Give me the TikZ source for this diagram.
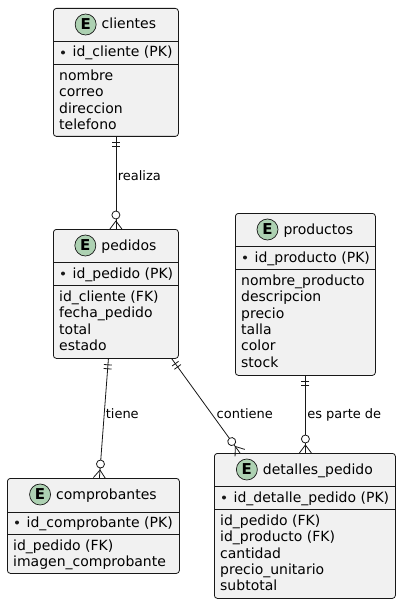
\documentclass[tikz,border=0pt]{standalone}
\usepackage{fontspec}
\setmainfont{DejaVu Sans}
\usetikzlibrary{positioning, calc, decorations.markings}

\definecolor{entfill}{HTML}{F1F1F1}
\definecolor{entline}{HTML}{181818}
\definecolor{ecirc}{HTML}{ADD1B2}

\tikzset{
  entity/.style={draw=entline, fill=entfill, rounded corners=3pt, line width=0.8pt, anchor=north west, inner sep=0pt},
  sepline/.style={draw=entline, line width=0.9pt},
  etitle/.style={font=\fontsize{14}{16}\selectfont, anchor=base, inner sep=0pt, text height=11pt, text depth=2pt},
  emark/.style={circle, draw=entline, line width=0.7pt, fill=ecirc, minimum size=21pt, inner sep=0pt, font=\fontsize{15}{16}\selectfont\bfseries},
  attr/.style={font=\fontsize{14}{16}\selectfont, anchor=base west, inner sep=0pt},
  lbl/.style={font=\fontsize{13}{15}\selectfont, anchor=base west, inner sep=1.5pt},
  rel/.style={draw=entline, line width=0.8pt},
  one/.style={postaction={decorate, decoration={markings,
      mark=at position 6pt with {\draw[entline, line width=0.8pt] (0,-4) -- (0,4);},
      mark=at position 10pt with {\draw[entline, line width=0.8pt] (0,-4) -- (0,4);}}}},
  many/.style={postaction={decorate, decoration={markings,
      mark=at position -14pt with {\draw[entline, fill=white, line width=0.8pt] (0,0) circle (4);},
      mark=at position -8pt with {\draw[entline, line width=0.8pt] (8,-6) -- (0,0) -- (8,6);}}}}
}

\begin{document}
\begin{tikzpicture}[x=1pt, y=-1pt]
    \fill[white] (0,0) rectangle (401,604);
    \useasboundingbox (0,0) rectangle (401,604);

    % clientes
    \begin{scope}[shift={(53,8)}]
        \node[entity, minimum width=125, minimum height=128] (clientes) at (0,0) {};
        \draw[sepline] ([yshift=-33pt]clientes.north west) -- ([yshift=-33pt]clientes.north east);
        \draw[sepline] ([yshift=-56pt]clientes.north west) -- ([yshift=-56pt]clientes.north east);
        \node[etitle] (clientes-title) at ($(clientes.north)+(13,21)$) {clientes};
        \node[emark, left=5pt of clientes-title] (clientes-e) {E};
        \fill[entline] (10,44.5) circle (2);
        \node[attr] (clientes-pk) at (19.5,49) {id\_cliente (PK)};
        \foreach \a [count=\i from 0] in {nombre, correo, direccion, telefono}
            \node[attr] at (6,72.5+16.3*\i) {\a};
    \end{scope}

    % pedidos
    \begin{scope}[shift={(53,229)}]
        \node[entity, minimum width=125, minimum height=129] (pedidos) at (0,0) {};
        \draw[sepline] ([yshift=-33pt]pedidos.north west) -- ([yshift=-33pt]pedidos.north east);
        \draw[sepline] ([yshift=-56pt]pedidos.north west) -- ([yshift=-56pt]pedidos.north east);
        \node[etitle] (pedidos-title) at ($(pedidos.north)+(13,21)$) {pedidos};
        \node[emark, left=5pt of pedidos-title] (pedidos-e) {E};
        \fill[entline] (10,44.5) circle (2);
        \node[attr] (pedidos-pk) at (19.5,49) {id\_pedido (PK)};
        \foreach \a [count=\i from 0] in {{id\_cliente (FK)}, fecha\_pedido, total, estado}
            \node[attr] at (6,72.5+16.3*\i) {\a};
    \end{scope}

    % productos
    \begin{scope}[shift={(235,213)}]
        \node[entity, minimum width=140, minimum height=162] (productos) at (0,0) {};
        \draw[sepline] ([yshift=-33pt]productos.north west) -- ([yshift=-33pt]productos.north east);
        \draw[sepline] ([yshift=-56pt]productos.north west) -- ([yshift=-56pt]productos.north east);
        \node[etitle] (productos-title) at ($(productos.north)+(13,21)$) {productos};
        \node[emark, left=5pt of productos-title] (productos-e) {E};
        \fill[entline] (10,44.5) circle (2);
        \node[attr] (productos-pk) at (19.5,49) {id\_producto (PK)};
        \foreach \a [count=\i from 0] in {nombre\_producto, descripcion, precio, talla, color, stock}
            \node[attr] at (6,72.5+16.3*\i) {\a};
    \end{scope}

    % comprobantes
    \begin{scope}[shift={(7,478)}]
        \node[entity, minimum width=172, minimum height=95] (comprobantes) at (0,0) {};
        \draw[sepline] ([yshift=-34pt]comprobantes.north west) -- ([yshift=-34pt]comprobantes.north east);
        \draw[sepline] ([yshift=-56pt]comprobantes.north west) -- ([yshift=-56pt]comprobantes.north east);
        \node[etitle] (comprobantes-title) at ($(comprobantes.north)+(13,21)$) {comprobantes};
        \node[emark, left=5pt of comprobantes-title] (comprobantes-e) {E};
        \fill[entline] (10,44.5) circle (2);
        \node[attr] (comprobantes-pk) at (19.5,49) {id\_comprobante (PK)};
        \foreach \a [count=\i from 0] in {{id\_pedido (FK)}, imagen\_comprobante}
            \node[attr] at (6,72.5+16.3*\i) {\a};
    \end{scope}

    % detalles_pedido
    \begin{scope}[shift={(214,453)}]
        \node[entity, minimum width=181, minimum height=145] (detalles) at (0,0) {};
        \draw[sepline] ([yshift=-33pt]detalles.north west) -- ([yshift=-33pt]detalles.north east);
        \draw[sepline] ([yshift=-56pt]detalles.north west) -- ([yshift=-56pt]detalles.north east);
        \node[etitle] (detalles-title) at ($(detalles.north)+(13,21)$) {detalles\_pedido};
        \node[emark, left=5pt of detalles-title] (detalles-e) {E};
        \fill[entline] (10,44.5) circle (2);
        \node[attr] (detalles-pk) at (19.5,49) {id\_detalle\_pedido (PK)};
        \foreach \a [count=\i from 0] in {{id\_pedido (FK)}, {id\_producto (FK)}, cantidad, precio\_unitario, subtotal}
            \node[attr] at (6,72.5+16.3*\i) {\a};
    \end{scope}

    % relations
    \draw[rel, one, many] (clientes.south) -- (pedidos.north) node[lbl, pos=0.47] {realiza};
    \draw[rel, one, many] ([xshift=-7.5pt]pedidos.south) -- ([xshift=6pt]comprobantes.north) node[lbl, pos=0.5] {tiene};
    \draw[rel, one, many] ([xshift=-7pt]pedidos.south east) -- ([xshift=26pt]detalles.north west) node[lbl, pos=0.63] {contiene};
    \draw[rel, one, many] (productos.south) -- (productos.south |- detalles.north) node[lbl, pos=0.55] {es parte de};

\end{tikzpicture}
\end{document}
